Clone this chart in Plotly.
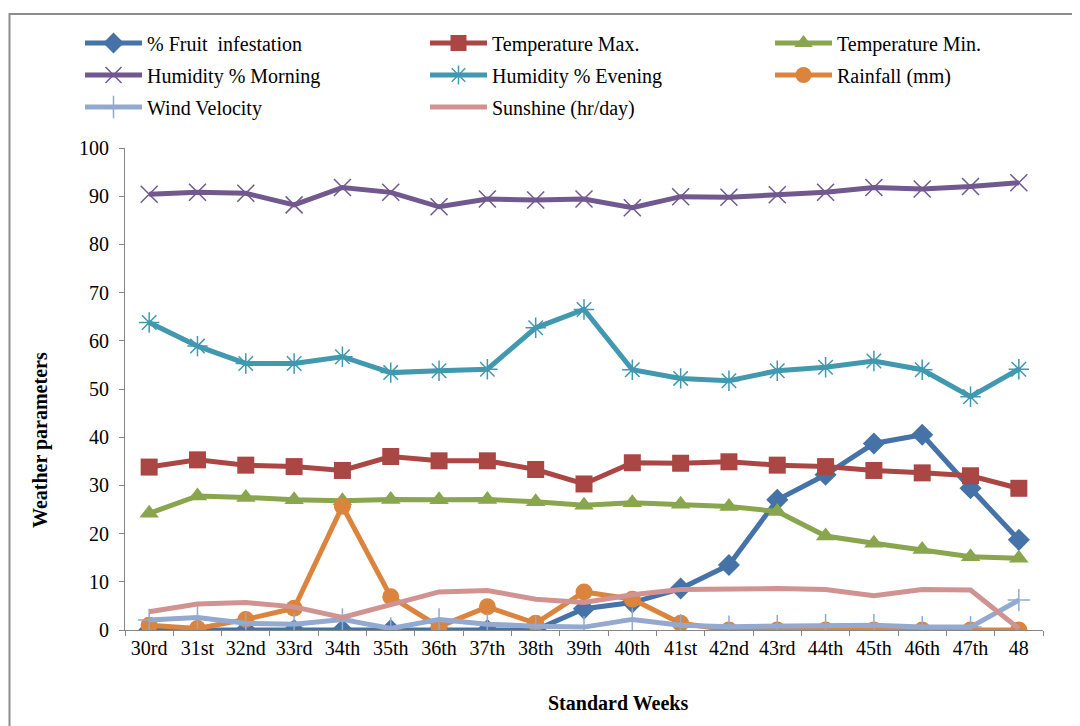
import plotly.graph_objects as go

weeks = ["30rd", "31st", "32nd", "33rd", "34th", "35th", "36th", "37th", "38th", "39th",
         "40th", "41st", "42nd", "43rd", "44th", "45th", "46th", "47th", "48"]

fruit_infestation = [0, 0, 0, 0, 0, 0, 0, 0, 0, 4.4, 5.7, 8.6, 13.5, 27.0, 32.2, 38.7, 40.5, 29.4, 18.7]
temp_max = [33.8, 35.3, 34.2, 33.9, 33.1, 36.0, 35.1, 35.1, 33.3, 30.3, 34.7, 34.6, 34.9, 34.2, 33.9, 33.1, 32.6, 32.0, 29.4]
temp_min = [24.2, 27.8, 27.5, 27.0, 26.8, 27.1, 27.0, 27.1, 26.6, 25.9, 26.4, 26.1, 25.6, 24.6, 19.5, 18.0, 16.7, 15.2, 14.9]
hum_morning = [90.4, 90.8, 90.6, 88.2, 91.8, 90.8, 87.8, 89.4, 89.2, 89.4, 87.6, 89.9, 89.8, 90.3, 90.8, 91.8, 91.5, 92.0, 92.8]
hum_evening = [63.8, 58.9, 55.3, 55.3, 56.7, 53.4, 53.8, 54.1, 62.7, 66.5, 54.0, 52.2, 51.7, 53.8, 54.5, 55.8, 54.0, 48.4, 54.1]
rainfall = [1.0, 0.3, 2.2, 4.5, 25.7, 6.9, 0.7, 4.8, 1.4, 7.9, 6.4, 1.4, 0, 0, 0, 0, 0, 0, 0]
wind = [2.1, 2.6, 1.4, 1.2, 2.2, 0.3, 2.2, 1.2, 0.8, 0.6, 2.2, 1.0, 0.7, 0.8, 1.0, 1.0, 0.6, 0.6, 6.2]
sunshine = [3.8, 5.4, 5.7, 4.8, 2.6, 5.2, 7.9, 8.2, 6.4, 5.7, 7.3, 8.4, 8.6, 8.6, 8.4, 7.1, 8.4, 8.3, 0.3]

series = [
    ("% Fruit\u00a0 infestation", fruit_infestation, "#4572A7", "diamond", 17),
    ("Temperature Max.", temp_max, "#AA4643", "square", 17),
    ("Temperature Min.", temp_min, "#89A54E", "triangle-up", 17),
    ("Humidity % Morning", hum_morning, "#71588F", "x-thin", 17),
    ("Humidity % Evening", hum_evening, "#4198AF", "asterisk", 17),
    ("Rainfall (mm)", rainfall, "#DB843D", "circle", 17),
    ("Wind Velocity", wind, "#93A9CF", "cross-thin", 16),
    ("Sunshine (hr/day)", sunshine, "#D19392", None, 0),
]

font_family = "Liberation Serif"
FS = 20
# the page shows the figure 8px from the top-left corner
L, R, T, B = 117, 45, 140, 104
W, H = 1080, 726
pw, ph = W - L - R, H - T - B

def px_x(px):
    return (px - L) / pw

def px_y(py):
    return (H - B - py) / ph

col_x = [72, 417, 762]
row_y = [35, 67, 99]

fig = go.Figure()
legends = {}
for i, (name, vals, color, sym, size) in enumerate(series):
    lg = "legend" if i == 0 else f"legend{i + 1}"
    legends[lg] = dict(
        orientation="h", xanchor="left", yanchor="middle",
        x=px_x(col_x[i % 3]), y=px_y(row_y[i // 3]),
        font=dict(family=font_family, size=FS, color="#000"),
        bgcolor="rgba(0,0,0,0)", itemwidth=57,
    )
    if sym is None:
        fig.add_trace(go.Scatter(x=weeks, y=vals, name=name, mode="lines",
                                 line=dict(color=color, width=5), legend=lg))
    else:
        mk = dict(symbol=sym, size=size, color=color)
        if sym in ("x-thin", "asterisk", "cross-thin"):
            mk["line"] = dict(color=color, width=1.5)
        fig.add_trace(go.Scatter(x=weeks, y=vals, name=name, mode="lines+markers",
                                 line=dict(color=color, width=5), marker=mk, legend=lg))

fig.update_layout(
    width=W, height=H,
    margin=dict(l=L, r=R, t=T, b=B),
    paper_bgcolor="white", plot_bgcolor="white",
    font=dict(family=font_family, size=FS, color="#000"),
    showlegend=True,
    **legends,
    xaxis=dict(type="category", range=[-0.5, 18.5], showgrid=False, zeroline=False,
               showline=True, linecolor="#868686", linewidth=1, tickangle=0,
               ticks="outside", tickson="boundaries", ticklen=5, tickcolor="#868686",
               tickfont=dict(family=font_family, size=FS, color="#000")),
    yaxis=dict(range=[0, 100], dtick=10, showgrid=False, zeroline=False,
               showline=True, linecolor="#868686", linewidth=1,
               ticks="outside", ticklen=5, tickcolor="#868686", ticklabelstandoff=6,
               tickfont=dict(family=font_family, size=FS, color="#000")),
    annotations=[
        dict(text="<b>Weather parameters</b>", xref="paper", yref="paper",
             x=px_x(32), y=px_y(432), textangle=-90, showarrow=False,
             font=dict(family=font_family, size=FS, color="#000"),
             xanchor="center", yanchor="middle"),
        dict(text="<b>Standard Weeks</b>", xref="paper", yref="paper",
             x=px_x(610), y=px_y(695), showarrow=False,
             font=dict(family=font_family, size=FS, color="#000"),
             xanchor="center", yanchor="middle"),
    ],
    shapes=[
        dict(type="rect", xref="paper", yref="paper",
             x0=px_x(1.5), x1=px_x(1200), y0=px_y(800), y1=px_y(6),
             line=dict(color="#8C8C8C", width=2), fillcolor="rgba(0,0,0,0)", layer="below"),
    ],
)

fig.write_html("out.html")
